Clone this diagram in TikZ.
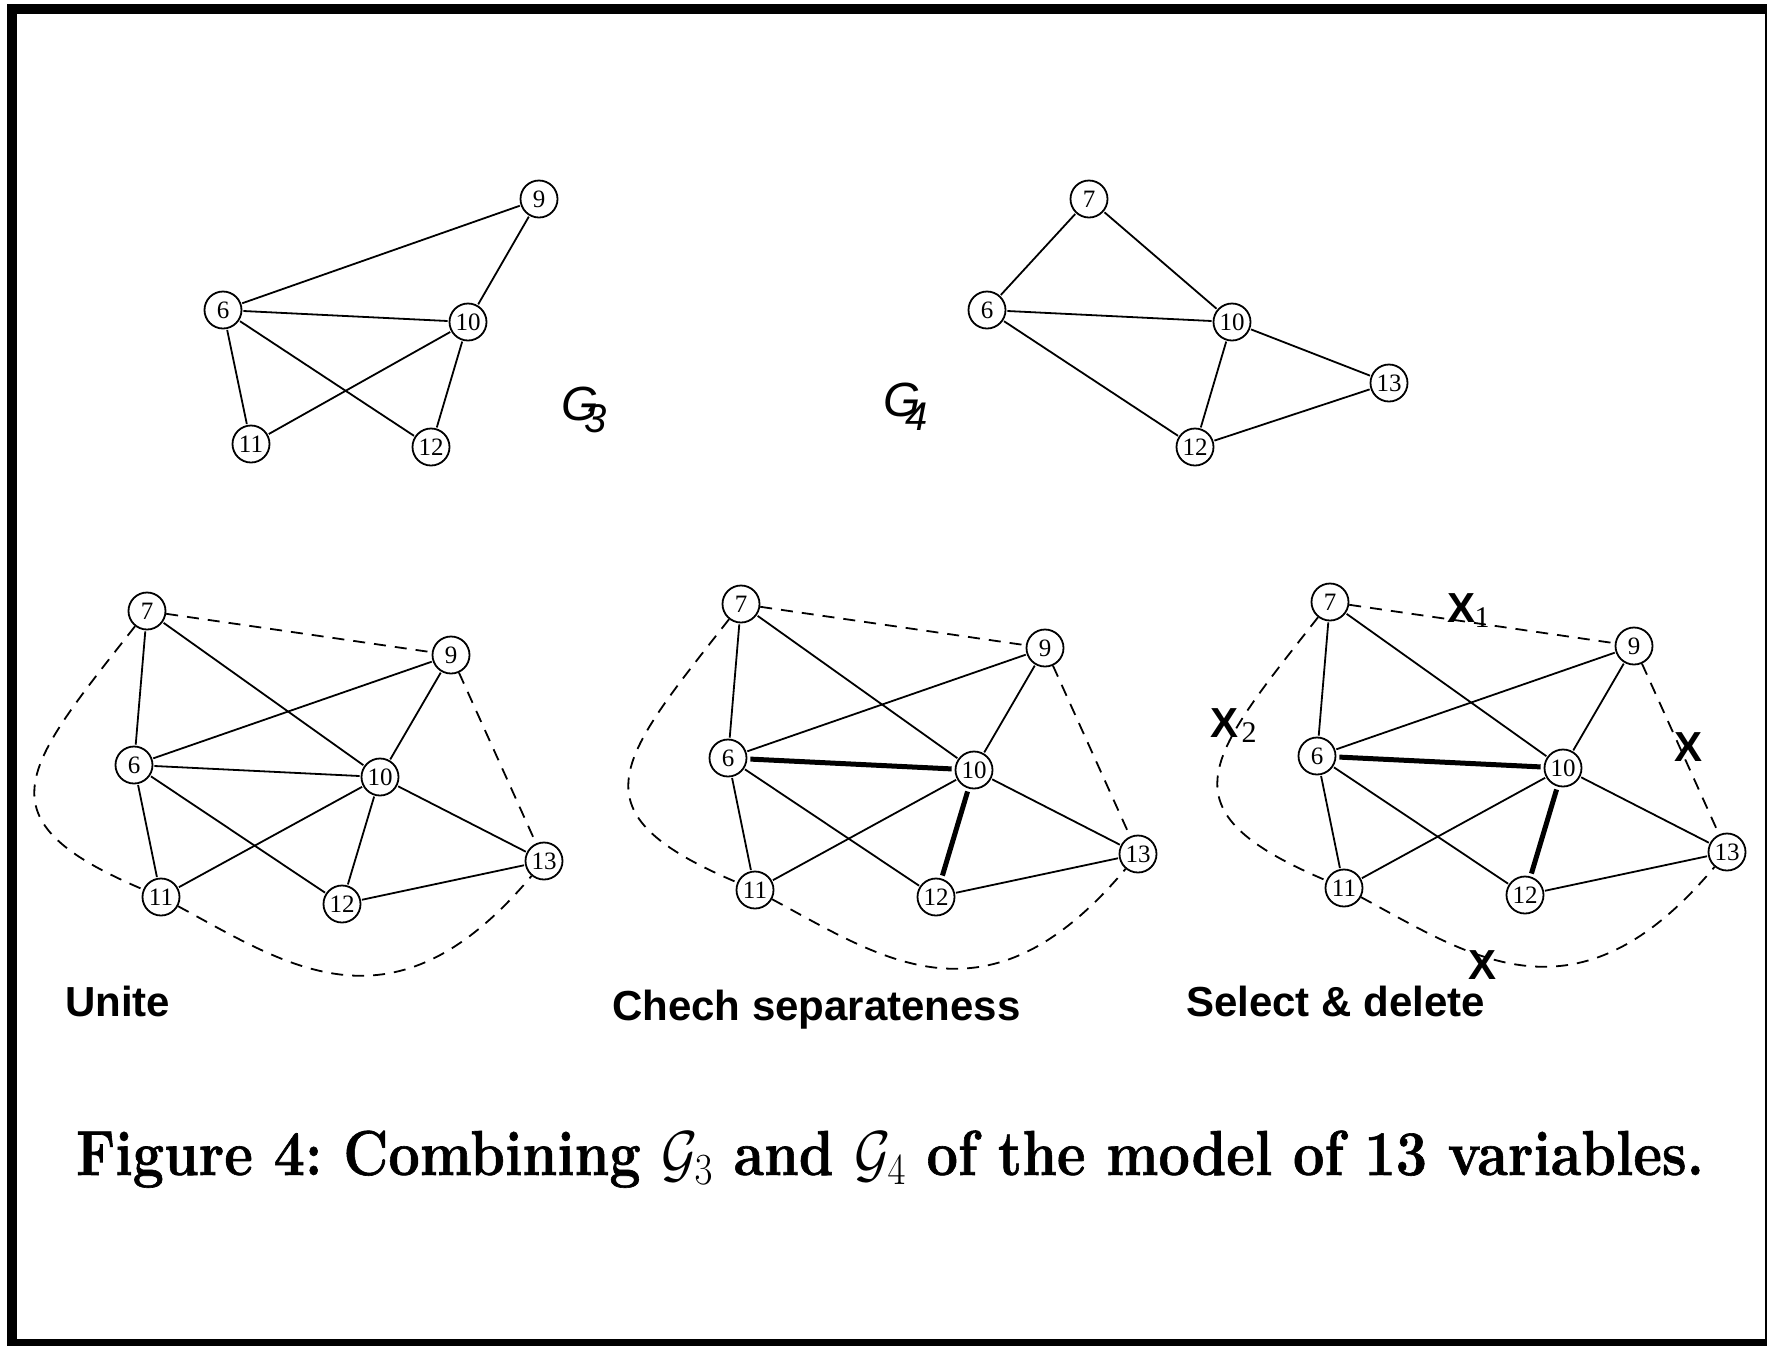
\RequirePackage{fix-cm}
\documentclass[tikz,border=0pt]{standalone}
\usepackage{graphicx}
\usepackage{fontspec}
\newfontfamily\sansf{Liberation Sans}
\newfontfamily\timesf{Liberation Serif}
\newfontfamily\capfont{lmroman12-bold.otf}[FakeBold=1]
\tikzset{
  vtx/.style={circle, draw, line width=1.8pt, fill=white, minimum size=37pt, inner sep=0pt,
    font=\timesf\fontsize{25}{25}\selectfont},
  edge/.style={line width=1.8pt, shorten <=1pt, shorten >=1pt},
  heavy/.style={line width=5pt, shorten <=3pt, shorten >=3pt},
  dsh/.style={line width=1.8pt, dash pattern=on 12pt off 9pt},
  lbl/.style={font=\sansf\bfseries\fontsize{42}{42}\selectfont, inner sep=0pt, anchor=base west},
  xmark/.style={font=\sansf\bfseries\fontsize{42}{42}\selectfont, inner sep=0pt},
  xsub/.style={font=\timesf\fontsize{30}{30}\selectfont, inner sep=0pt},
  gname/.style={font=\sansf\itshape\fontsize{48}{48}\selectfont, inner sep=0pt},
  gsub/.style={font=\sansf\itshape\fontsize{40}{40}\selectfont, inner sep=0pt},
}
\newcommand\bottompanel[1]{%
  \node[vtx] (n7) at (147,611) {7};
  \node[vtx] (n9) at (451,655) {9};
  \node[vtx] (n6) at (134,765) {6};
  \node[vtx] (n10) at (380,777) {10};
  \node[vtx] (n13) at (544,861) {13};
  \node[vtx] (n11) at (161,897) {11};
  \node[vtx] (n12) at (342,904) {12};
  \draw[edge] (n7) -- (n6);
  \draw[edge] (n7) -- (n10);
  \draw[edge] (n6) -- (n9);
  \draw[edge] (n9) -- (n10);
  \draw[edge] (n6) -- (n11);
  \draw[edge] (n6) -- (n12);
  \draw[edge] (n10) -- (n11);
  \draw[edge] (n10) -- (n13);
  \draw[edge] (n12) -- (n13);
  \draw[#1] (n6) -- (n10);
  \draw[#1] (n10) -- (n12);
  \draw[dsh] (n7) -- (n9);
  \draw[dsh] (n9) -- (n13);
  \draw[dsh] (n7) .. controls +(-124,158) and +(-184,-78) .. (n11);
  \draw[dsh] (n11) .. controls +(128,69) and +(-150,179) .. (n13);
}
\begin{document}
\begin{tikzpicture}[x=1pt,y=-1pt]
\fill[white] (0,0) rectangle (1767,1345);
\useasboundingbox (0,0) rectangle (1767,1345);
\draw[line width=10.3pt] (11.85,9.3) rectangle (1769.7,1344.3);

% G3
\begin{scope}[name prefix=g3-]
  \node[vtx] (n9) at (539,199) {9};
  \node[vtx] (n6) at (223,310) {6};
  \node[vtx] (n10) at (468,322) {10};
  \node[vtx] (n11) at (251,444) {11};
  \node[vtx] (n12) at (431,447) {12};
  \draw[edge] (n6) -- (n9);
  \draw[edge] (n9) -- (n10);
  \draw[edge] (n6) -- (n10);
  \draw[edge] (n6) -- (n11);
  \draw[edge] (n6) -- (n12);
  \draw[edge] (n10) -- (n11);
  \draw[edge] (n10) -- (n12);
  \node[gname] (gG) at (580,404) {G};
  \node[gsub] (gs) at (596,419) {3};
\end{scope}

% G4
\begin{scope}[name prefix=g4-]
  \node[vtx] (n7) at (1089,199) {7};
  \node[vtx] (n6) at (987,310) {6};
  \node[vtx] (n10) at (1232,322) {10};
  \node[vtx] (n13) at (1389,383) {13};
  \node[vtx] (n12) at (1195,447) {12};
  \draw[edge] (n7) -- (n6);
  \draw[edge] (n7) -- (n10);
  \draw[edge] (n6) -- (n10);
  \draw[edge] (n6) -- (n12);
  \draw[edge] (n10) -- (n12);
  \draw[edge] (n10) -- (n13);
  \draw[edge] (n12) -- (n13);
  \node[gname] (gG) at (902,400) {G};
  \node[gsub] (gs) at (917,417) {4};
\end{scope}

% bottom panels
\begin{scope}[name prefix=a-]
  \bottompanel{edge}
\end{scope}
\begin{scope}[name prefix=b-, shift={(594,-7)}]
  \bottompanel{heavy}
\end{scope}
\begin{scope}[name prefix=c-, shift={(1183,-9)}]
  \bottompanel{heavy}
\end{scope}

% X marks
\node[xmark] (x1) at (1461,608) {X};
\node[xsub] (x1s) at (1482,618) {1};
\node[xmark] (x2) at (1224,723) {X};
\node[xsub] (x2s) at (1249,733) {2};
\node[xmark] (x3) at (1688,747) {X};
\node[xmark] (x4) at (1482,965) {X};

% labels
\node[lbl] (l1) at (65,1016) {Unite};
\node[lbl] (l2) at (612,1020) {Chech separateness};
\node[lbl] (l3) at (1186,1016) {Select \& delete};

% caption
\node[inner sep=0pt, anchor=base] (cap) at (890,1175)
  {\resizebox{1628pt}{44.5pt}{\capfont\fontsize{64}{64}\selectfont Figure 4:\ Combining $\mathcal{G}_3$ and $\mathcal{G}_4$ of the model of 13 variables.}};
\end{tikzpicture}
\end{document}
